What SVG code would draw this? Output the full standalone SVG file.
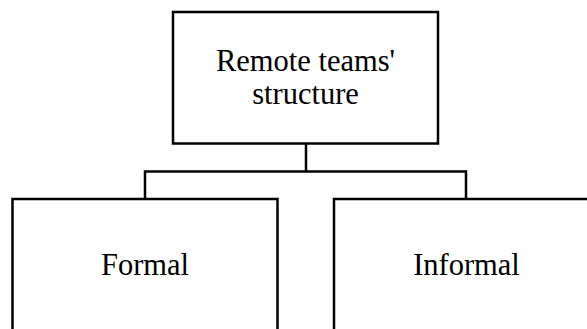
<svg xmlns="http://www.w3.org/2000/svg" width="587" height="329" viewBox="0 0 587 329">
<style>
.box{fill:#fff;stroke:#000;stroke-width:2.5}
.ln{fill:none;stroke:#000;stroke-width:2.5}
.t{font-family:'Liberation Serif',serif;font-size:30.5px;fill:#000;text-anchor:middle}
</style>
<rect width="587" height="329" fill="#fff"/>
<g id="connectors">
<path class="ln" d="M306 144 V171.5 M145 199 V171.5 H466 V199"/>
</g>
<g id="root">
<rect class="box" x="173" y="12" width="265" height="131.5"/>
<text class="t" x="305.5" y="71">Remote teams'</text>
<text class="t" x="305.5" y="103.5">structure</text>
</g>
<g id="formal">
<rect class="box" x="12.5" y="199" width="265" height="150"/>
<text class="t" x="145" y="275">Formal</text>
</g>
<g id="informal">
<rect class="box" x="334" y="199" width="265" height="150"/>
<text class="t" x="466.5" y="275">Informal</text>
</g>
</svg>
